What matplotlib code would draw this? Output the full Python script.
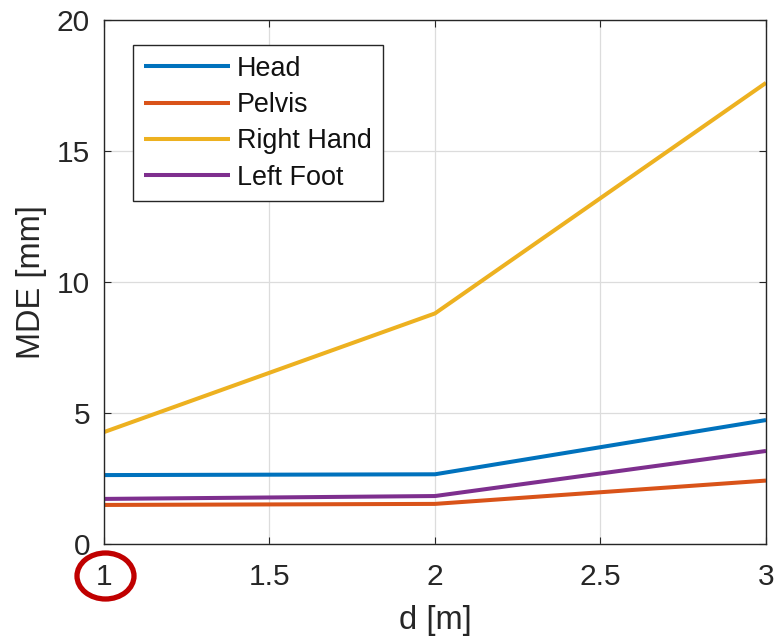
import matplotlib
matplotlib.use('Agg')
import matplotlib.pyplot as plt
from matplotlib.patches import Ellipse

plt.rcParams['font.family'] = ['Liberation Sans', 'DejaVu Sans']

# data
distance = [1, 2, 3]
head = [2.63, 2.66, 4.73]
pelvis = [1.49, 1.53, 2.42]
right_hand = [4.27, 8.80, 17.60]
left_foot = [1.72, 1.83, 3.55]

series = [
    ('Head', head, '#0072BD'),
    ('Pelvis', pelvis, '#D95319'),
    ('Right Hand', right_hand, '#EDB120'),
    ('Left Foot', left_foot, '#7E2F8E'),
]

x_ticks = [1, 1.5, 2, 2.5, 3]
x_tick_labels = ['1', '1.5', '2', '2.5', '3']
y_ticks = [0, 5, 10, 15, 20]

fig = plt.figure(figsize=(7.77, 6.39), dpi=100)
ax = fig.add_axes([0.1338, 0.1487, 0.852, 0.820])

for name, vals, col in series:
    ax.plot(distance, vals, color=col, linewidth=2.9, label=name,
            solid_capstyle='butt')

ax.set_xlim(1, 3)
ax.set_ylim(0, 20)
ax.set_xticks(x_ticks)
ax.set_xticklabels(x_tick_labels)
ax.set_yticks(y_ticks)
ax.grid(True, color='#dcdcdc', linewidth=0.9)
ax.set_axisbelow(True)

txt_col = '#262626'
ax.tick_params(direction='in', length=5, width=0.8, labelsize=21.5,
               colors=txt_col, top=True, right=True)
ax.tick_params(axis='x', pad=14)
ax.tick_params(axis='y', pad=10)
for sp in ax.spines.values():
    sp.set_color(txt_col)
    sp.set_linewidth(1.0)

ax.set_xlabel('d [m]', fontsize=23.5, color=txt_col, labelpad=10)
ax.set_ylabel('MDE [mm]', fontsize=23.5, color=txt_col, labelpad=7)

leg = ax.legend(loc='upper left', bbox_to_anchor=(0.0438, 0.952),
                fontsize=19.4, handlelength=3.2, handletextpad=0.26,
                labelspacing=0.38, borderpad=0.4, borderaxespad=0,
                fancybox=False, framealpha=1)
leg.get_frame().set_edgecolor(txt_col)
leg.get_frame().set_linewidth(1.0)
for t in leg.get_texts():
    t.set_color('#111111')

# red highlight around the first x tick label
ring = Ellipse((105.5 / 777, 1 - 576 / 639), 57 / 777, 46 / 639,
               transform=fig.transFigure, fill=False,
               edgecolor='#C00000', linewidth=3.8, clip_on=False)
fig.patches.append(ring)

fig.savefig('out.png', dpi=100)
